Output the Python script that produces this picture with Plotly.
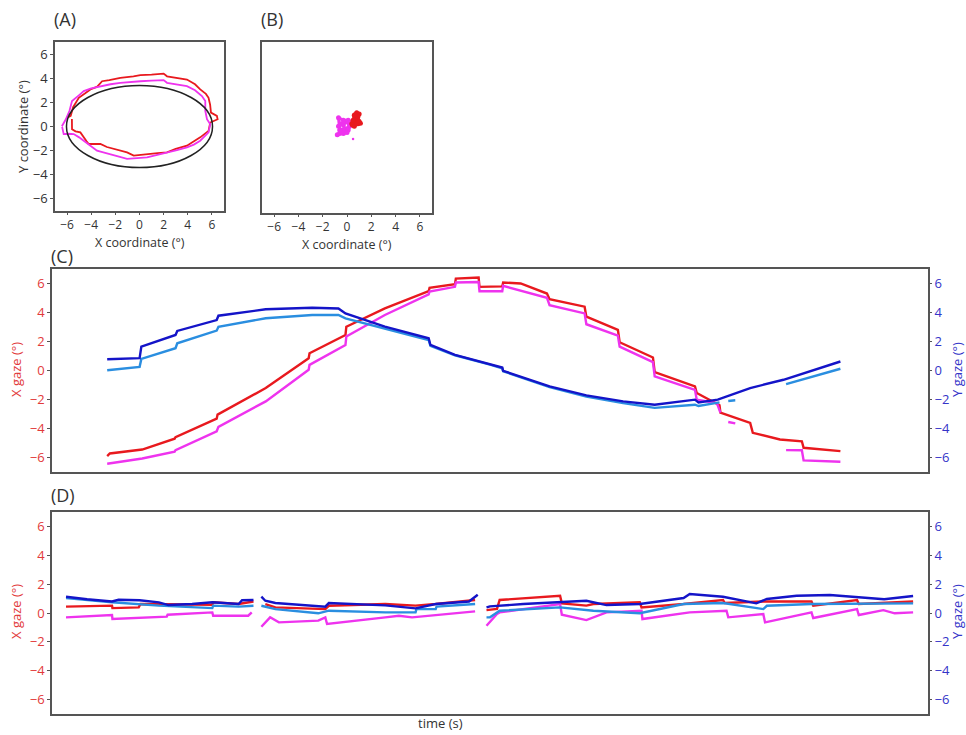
import plotly.graph_objects as go

# ---------------- data ----------------
# Panel A: gaze trajectories (X vs Y, degrees) and target ellipse
a_red_x = [-5.9, -5.7, -5.5, -5.03, -4.5, -4.07, -3.5, -3.1, -2.5, -1.59, -0.5, 0.07, 1.0, 2.0, 2.28, 3.0, 3.93, 4.6, 5.03, 5.5,
           5.72, 5.85, 5.92, 6.41, 6.47, 5.86, 5.8, 5.72, 5.03, 4.4, 3.93, 3.0, 2.28, 1.5, 0.62, -0.1, -0.48, -1.03, -1.6, -2.14,
           -2.7, -3.24, -3.7, -4.21, -4.4, -4.62, -4.9, -5.3, -5.59, -5.6]
a_red_y = [0.78, 0.88, 1.6, 2.38, 2.75, 3.07, 3.3, 3.75, 3.85, 4.03, 4.15, 4.25, 4.3, 4.38, 4.16, 4.05, 3.89, 3.5, 3.07, 2.7,
           2.38, 1.8, 1.15, 0.88, 0.6, 0.33, 0.0, -0.36, -0.9, -1.3, -1.59, -1.85, -2.14, -2.2, -2.27, -2.36, -2.41, -2.14, -2.0, -1.86,
           -1.7, -1.45, -1.45, -1.45, -1.2, -0.9, -0.49, -0.4, -0.22, 0.62]
a_mag_x = [-6.43, -6.1, -5.8, -5.59, -5.0, -4.62, -4.0, -3.24, -2.4, -1.59, -0.8, 0.07, 1.0, 2.0, 2.28, 3.1, 3.93, 4.6, 5.17, 5.45,
           5.45, 5.59, 5.86, 5.72, 5.4, 5.03, 4.5, 3.93, 3.1, 2.28, 1.5, 0.62, -0.2, -1.03, -1.7, -2.41, -3.0, -3.52, -4.1, -4.62,
           -5.0, -5.45, -5.9, -6.28, -6.41]
a_mag_y = [0.02, 0.6, 1.3, 2.11, 2.6, 2.93, 3.15, 3.34, 3.5, 3.62, 3.7, 3.75, 3.8, 3.84, 3.62, 3.5, 3.34, 3.0, 2.52, 2.11,
           1.29, 0.6, 0.19, -0.49, -0.85, -1.18, -1.5, -1.73, -1.95, -2.14, -2.35, -2.55, -2.62, -2.68, -2.5, -2.33, -2.15, -2.0, -1.6, -1.18,
           -0.9, -0.63, -0.6, -0.63, -0.03]
target_rx = 6.05
target_ry = 3.4

# Panel B: fixation gaze clusters
b_red_x = [0.4, 0.6, 0.8, 0.9, 1.0, 0.8, 0.6, 0.5, 0.7, 0.9, 1.1, 0.9, 0.7, 0.5, 0.45, 0.6, 0.8, 1.0, 0.85, 0.65]
b_red_y = [0.3, 0.5, 0.7, 0.9, 1.1, 1.2, 1.0, 0.6, 0.4, 0.3, 0.35, 0.6, 0.8, 0.5, 0.2, 0.1, 0.3, 0.5, 0.9, 1.05]
b_mag_x = [-0.7, -0.5, -0.3, -0.1, 0.1, 0.2, 0.0, -0.2, -0.4, -0.6, -0.8, -0.5, -0.2, 0.1, 0.3, 0.1, -0.3, -0.7, -0.6, -0.3, 0.0]
b_mag_y = [0.1, 0.3, 0.2, 0.5, 0.4, 0.1, -0.1, -0.3, -0.2, -0.5, -0.6, -0.4, -0.1, -0.2, 0.2, 0.6, 0.6, 0.8, -0.2, -0.5, -0.4]
b_dot_x = [0.5]
b_dot_y = [-0.95]

# Panel C: pursuit, gaze vs time (time in % of trial)
c_red_t = [6.3, 6.6, 10.3, 14.0, 14.1, 18.8, 18.9, 24.4, 29.3, 29.4, 33.5, 33.6, 38.0, 43.0, 43.1, 46.0, 46.1, 48.7, 48.8, 51.4,
           51.5, 53.5, 56.5, 56.8, 60.8, 61.0, 64.6, 64.8, 68.6, 68.8, 73.4, 73.6, 76.2, 76.3, 79.7, 80.0, 83.1, 85.6, 85.8, 90.0]
c_red_v = [-5.9, -5.72, -5.45, -4.7, -4.6, -3.32, -3.04, -1.21, 0.85, 1.19, 2.45, 3.02, 4.28, 5.47, 5.7, 5.95, 6.34, 6.41, 5.77, 5.8,
           6.07, 6.0, 5.31, 4.92, 4.4, 3.71, 2.8, 1.95, 0.9, -0.11, -1.1, -1.55, -2.4, -2.9, -3.61, -4.3, -4.76, -4.88, -5.33, -5.56]
c_mag_t = [6.3, 10.3, 14.0, 14.1, 18.8, 19.0, 24.4, 29.3, 29.4, 33.5, 33.6, 38.0, 43.0, 43.1, 46.0, 46.1, 48.7, 48.8, 51.4, 51.5,
           56.5, 56.8, 60.8, 61.0, 64.6, 64.8, 68.6, 68.8, 73.4, 73.6, 75.9, 76.3, 76.7, 77.2, 78.0, 80.9, 83.8, 85.6, 85.8, 90.0]
c_mag_v = [-6.43, -6.07, -5.6, -5.5, -4.19, -3.89, -2.13, 0.05, 0.39, 1.76, 2.34, 3.83, 5.25, 5.45, 5.77, 6.07, 6.1, 5.47, 5.47, 5.84,
           5.01, 4.51, 3.94, 3.19, 2.4, 1.65, 0.58, -0.41, -1.33, -2.01, -2.24, -2.9, None, -3.55, -3.65, None, -5.49, -5.5, -6.2, -6.29]
c_dblue_t = [6.3, 10.0, 10.2, 14.1, 14.3, 18.8, 19.0, 24.4, 29.7, 32.7, 33.5, 38.0, 43.0, 43.2, 46.0, 50.0, 51.4, 51.5, 56.8, 61.0,
             65.2, 68.8, 73.4, 73.8, 76.0, 79.7, 83.5, 90.0]
c_dblue_v = [0.78, 0.85, 1.65, 2.45, 2.73, 3.48, 3.78, 4.22, 4.33, 4.28, 3.94, 3.02, 2.22, 1.76, 1.08, 0.45, 0.2, -0.02, -1.1, -1.72,
             -2.13, -2.36, -2.01, -2.2, -2.01, -1.21, -0.64, 0.62]
c_lblue_t = [6.3, 10.0, 10.2, 14.1, 14.3, 18.8, 19.0, 24.4, 29.7, 32.7, 33.5, 38.0, 43.0, 43.2, 46.0, 50.0, 51.4, 51.5, 56.8, 61.0,
             65.2, 68.8, 73.4, 73.8, 76.2, 76.7, 77.2, 78.0, 80.9, 83.8, 90.0]
c_lblue_v = [0.02, 0.25, 0.8, 1.54, 1.88, 2.75, 3.02, 3.6, 3.83, 3.83, 3.6, 2.91, 2.1, 1.7, 1.05, 0.4, 0.15, -0.05, -1.15, -1.8,
             -2.25, -2.58, -2.36, -2.45, -2.2, None, -2.1, -2.05, None, -0.94, 0.12]

# Panel D: fixation, gaze vs time
d_red_t = [1.6, 6.85, 6.9, 9.9, 10.1, 12.2, 18.3, 18.4, 21.3, 23.0, 23.5, 24.35, 25.5, 31.2, 31.6, 38.05, 41.5, 43.8, 48.3, 49.1,
           49.6, 50.8, 51.1, 58.0, 58.2, 61.0, 61.8, 67.1, 67.3, 72.1, 76.6, 76.8, 81.2, 86.7, 86.9, 91.9, 92.1, 98.3]
d_red_v = [0.44, 0.51, 0.34, 0.39, 0.62, 0.6, 0.57, 0.74, 0.62, 0.8, None, 0.62, 0.39, 0.27, 0.5, 0.62, 0.51, 0.62, 0.9, None,
           0.2, 0.28, 0.9, 1.2, 0.67, 0.51, 0.62, 0.74, 0.39, 0.62, 0.9, 0.69, 0.8, 0.8, 0.51, 0.9, 0.62, 0.8]
d_mag_t = [1.6, 6.85, 6.9, 12.2, 13.1, 13.2, 18.3, 18.4, 22.4, 22.8, 23.4, 23.9, 24.9, 25.9, 30.4, 31.2, 31.4, 38.05, 39.6, 41.1,
           48.3, 49.0, 49.6, 50.8, 51.1, 58.0, 58.2, 61.0, 63.3, 67.3, 67.4, 72.8, 77.0, 77.2, 81.2, 81.4, 86.7, 86.9, 91.9, 92.1,
           94.9, 96.2, 98.3]
d_mag_v = [-0.3, -0.14, -0.42, -0.25, -0.25, -0.12, 0.04, -0.19, -0.19, 0.04, None, -0.95, -0.3, -0.65, -0.53, -0.3, -0.76, -0.3, -0.19, -0.3,
           0.11, None, -0.88, -0.07, 0.04, 0.62, -0.12, -0.49, 0.04, 0.16, -0.42, 0.04, 0.16, -0.3, -0.07, -0.65, 0.04, -0.35, 0.27, -0.14,
           0.2, -0.02, 0.04]
d_dblue_t = [1.6, 4.0, 6.85, 7.6, 10.0, 12.2, 13.3, 16.0, 18.3, 21.3, 21.7, 23.0, 23.5, 23.9, 24.35, 25.5, 28.0, 31.2, 31.6, 35.0,
             38.05, 41.5, 43.8, 47.6, 48.6, 49.1, 49.6, 50.0, 53.8, 58.0, 61.0, 63.3, 67.1, 72.1, 72.8, 76.6, 80.4, 81.6, 85.0, 88.8,
             93.8, 95.0, 98.3]
d_dblue_v = [1.13, 0.95, 0.80, 0.92, 0.88, 0.74, 0.55, 0.62, 0.74, 0.62, 0.88, 0.90, None, 1.13, 0.85, 0.69, 0.6, 0.44, 0.69, 0.62,
             0.53, 0.32, 0.62, 0.8, 1.27, None, 0.39, 0.46, 0.62, 0.78, 0.85, 0.55, 0.62, 1.04, 1.31, 1.13, 0.67, 0.97, 1.2, 1.25,
             1.04, 0.95, 1.18]
d_lblue_t = [1.6, 6.85, 12.2, 17.1, 18.3, 18.4, 21.3, 23.0, 23.5, 23.9, 25.5, 30.4, 31.6, 38.05, 41.5, 41.6, 43.8, 43.9, 48.3, 49.1,
             49.6, 50.0, 51.1, 58.0, 61.8, 67.1, 72.1, 76.6, 81.2, 81.6, 86.7, 91.9, 98.3]
d_lblue_v = [1.04, 0.74, 0.51, 0.34, 0.34, 0.51, 0.44, 0.5, None, 0.5, 0.27, -0.02, 0.16, 0.04, 0.04, 0.27, 0.27, 0.44, 0.62, None,
             -0.3, -0.3, 0.16, 0.39, 0.16, -0.02, 0.62, 0.69, 0.27, 0.5, 0.62, 0.62, 0.67]

gaze_ticks = [-6, -4, -2, 0, 2, 4, 6]

# ---------------- style ----------------
RED = "#e8191e"
MAG = "#ee33ee"
DBLUE = "#1414c8"
LBLUE = "#2a8ee0"
RED_TXT = "#e23a3a"
BLUE_TXT = "#3434c8"
FRAME = "#555555"
FONT = "Open Sans"
W, H = 966, 735


def px_x(p):
    return p / W


def px_y(p):
    return 1 - p / H


fig = go.Figure()


def line(x, y, color, xa, ya, width=2.2):
    fig.add_trace(go.Scatter(x=x, y=y, mode="lines", line=dict(color=color, width=width),
                             xaxis=xa, yaxis=ya, connectgaps=False, showlegend=False, hoverinfo="skip"))


# Panel A
line(a_red_x, a_red_y, RED, "x", "y", 1.8)
line(a_mag_x, a_mag_y, MAG, "x", "y", 1.8)
fig.add_shape(type="circle", xref="x", yref="y", x0=-target_rx, x1=target_rx, y0=-target_ry, y1=target_ry,
              line=dict(color="#222222", width=1.5))

# Panel B
fig.add_trace(go.Scatter(x=b_mag_x, y=b_mag_y, mode="lines+markers", line=dict(color=MAG, width=3),
                         marker=dict(color=MAG, size=5), xaxis="x2", yaxis="y2", showlegend=False, hoverinfo="skip"))
fig.add_trace(go.Scatter(x=b_red_x, y=b_red_y, mode="lines+markers", line=dict(color=RED, width=3),
                         marker=dict(color=RED, size=5), xaxis="x2", yaxis="y2", showlegend=False, hoverinfo="skip"))
fig.add_trace(go.Scatter(x=b_dot_x, y=b_dot_y, mode="markers", marker=dict(color=MAG, size=2.5),
                         xaxis="x2", yaxis="y2", showlegend=False, hoverinfo="skip"))

# Panel C
line(c_red_t, c_red_v, RED, "x3", "y3", 2.4)
line(c_mag_t, c_mag_v, MAG, "x3", "y3", 2.4)
line(c_lblue_t, c_lblue_v, LBLUE, "x3", "y4", 2.4)
line(c_dblue_t, c_dblue_v, DBLUE, "x3", "y4", 2.4)

# Panel D
line(d_red_t, d_red_v, RED, "x4", "y5", 2.4)
line(d_mag_t, d_mag_v, MAG, "x4", "y5", 2.4)
line(d_lblue_t, d_lblue_v, LBLUE, "x4", "y6", 2.4)
line(d_dblue_t, d_dblue_v, DBLUE, "x4", "y6", 2.4)

frame = dict(showline=True, linecolor=FRAME, linewidth=1.5, mirror=True, showgrid=False, zeroline=False)

coord_x = dict(range=[-7, 7], tickvals=gaze_ticks, ticks="outside", ticklen=2, tickcolor=FRAME,
               tickfont=dict(family=FONT, size=12, color="#333333"), **frame)
coord_y = dict(range=[-7, 7], tickvals=gaze_ticks, ticks="outside", ticklen=3, tickcolor=FRAME,
               tickfont=dict(family=FONT, size=13, color="#333333"), **frame)
time_ax = dict(range=[0, 100], showticklabels=False, ticks="", **frame)


def gaze_ax(side, color, dom=None, overlay=None):
    d = dict(range=[-7, 7], tickvals=gaze_ticks, ticks="outside", ticklen=3, tickcolor=FRAME,
             tickfont=dict(family=FONT, size=13, color=color), side=side,
             showgrid=False, zeroline=False)
    if overlay:
        d.update(overlaying=overlay, showline=False)
    else:
        d.update(domain=dom, showline=True, linecolor=FRAME, linewidth=1.5, mirror=True)
    return d


fig.update_layout(
    width=W, height=H, margin=dict(l=0, r=0, t=0, b=0),
    paper_bgcolor="white", plot_bgcolor="white",
    font=dict(family=FONT, size=13, color="#333333"),
    xaxis=dict(domain=[px_x(55), px_x(224)], anchor="y", **coord_x),
    yaxis=dict(domain=[px_y(211), px_y(42)], anchor="x", **coord_y),
    xaxis2=dict(domain=[px_x(262), px_x(432)], anchor="y2", **coord_x),
    yaxis2=dict(domain=[px_y(213), px_y(42)], anchor="x2", range=[-7, 7], showticklabels=False, ticks="", **frame),
    xaxis3=dict(domain=[px_x(52), px_x(928)], anchor="y3", **time_ax),
    yaxis3=dict(anchor="x3", **gaze_ax("left", RED_TXT, dom=[px_y(472), px_y(269)])),
    yaxis4=dict(anchor="x3", **gaze_ax("right", BLUE_TXT, overlay="y3")),
    xaxis4=dict(domain=[px_x(52), px_x(928)], anchor="y5", **time_ax),
    yaxis5=dict(anchor="x4", **gaze_ax("left", RED_TXT, dom=[px_y(714), px_y(512)])),
    yaxis6=dict(anchor="x4", **gaze_ax("right", BLUE_TXT, overlay="y5")),
)


def note(text, x, y, size=13, color="#333333", angle=0, xanchor="center"):
    fig.add_annotation(text=text, x=px_x(x), y=px_y(y), xref="paper", yref="paper", showarrow=False,
                       xanchor=xanchor, yanchor="middle", textangle=angle, borderpad=0,
                       font=dict(family=FONT, size=size, color=color))


note("(A)", 53, 19, 18, xanchor="left")
note("(B)", 260, 19, 18, xanchor="left")
note("(C)", 50, 256, 18, xanchor="left")
note("(D)", 50, 495, 18, xanchor="left")
note("X coordinate (°)", 140, 242, 12.5)
note("X coordinate (°)", 347, 244, 12.5)
note("Y coordinate (°)", 23, 127, angle=-90)
note("X gaze (°)", 16, 370, color=RED_TXT, angle=-90)
note("Y gaze (°)", 957, 370, color=BLUE_TXT, angle=-90)
note("X gaze (°)", 16, 612, color=RED_TXT, angle=-90)
note("Y gaze (°)", 957, 612, color=BLUE_TXT, angle=-90)
note("time (s)", 440, 723)

fig.write_html("out.html", config={"displayModeBar": False},
               post_script="document.body.style.margin='0';")
